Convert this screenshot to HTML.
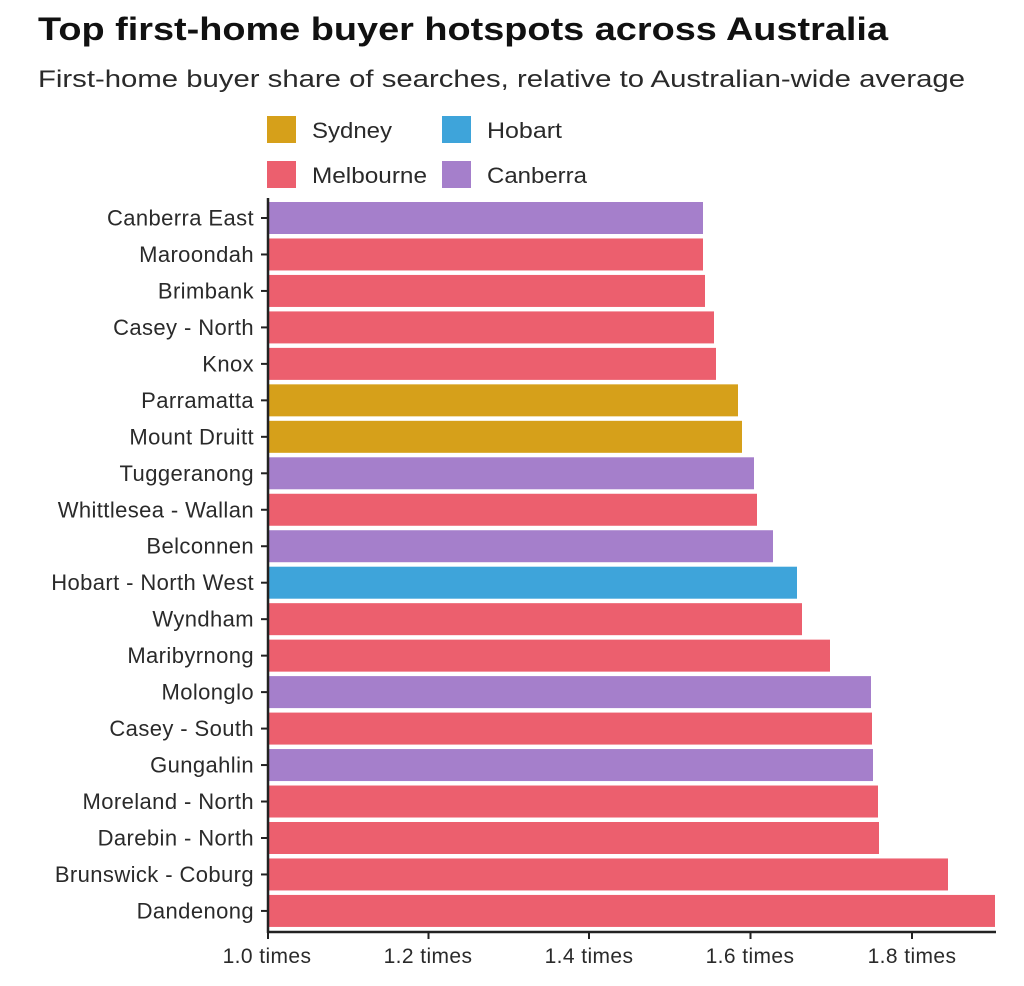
<!DOCTYPE html>
<html><head><meta charset="utf-8"><style>
html,body{margin:0;padding:0;background:#fff;}
svg text{font-family:"Liberation Sans",sans-serif;fill:#2a2a2a;}
</style></head><body>
<svg width="1024" height="981" viewBox="0 0 1024 981" xmlns="http://www.w3.org/2000/svg">
<text x="38" y="40" font-size="32" font-weight="bold" style="fill:#111" textLength="850" lengthAdjust="spacingAndGlyphs">Top first-home buyer hotspots across Australia</text>
<text x="38" y="87" font-size="24" textLength="927" lengthAdjust="spacingAndGlyphs">First-home buyer share of searches, relative to Australian-wide average</text>
<rect x="267" y="116" width="29" height="27" fill="#d6a01a"/><text x="312" y="138" font-size="22" textLength="80" lengthAdjust="spacingAndGlyphs">Sydney</text>
<rect x="442" y="116" width="29" height="27" fill="#3ea4da"/><text x="487" y="138" font-size="22" textLength="75" lengthAdjust="spacingAndGlyphs">Hobart</text>
<rect x="267" y="161" width="29" height="27" fill="#ec5f6e"/><text x="312" y="183" font-size="22" textLength="115" lengthAdjust="spacingAndGlyphs">Melbourne</text>
<rect x="442" y="161" width="29" height="27" fill="#a57fcb"/><text x="487" y="183" font-size="22" textLength="100" lengthAdjust="spacingAndGlyphs">Canberra</text>
<g>
<rect x="269" y="202" width="434" height="32" fill="#a57fcb"/>
<rect x="269" y="238.47" width="434" height="32" fill="#ec5f6e"/>
<rect x="269" y="274.94" width="436" height="32" fill="#ec5f6e"/>
<rect x="269" y="311.41" width="445" height="32" fill="#ec5f6e"/>
<rect x="269" y="347.88" width="447" height="32" fill="#ec5f6e"/>
<rect x="269" y="384.35" width="469" height="32" fill="#d6a01a"/>
<rect x="269" y="420.82" width="473" height="32" fill="#d6a01a"/>
<rect x="269" y="457.29" width="485" height="32" fill="#a57fcb"/>
<rect x="269" y="493.76" width="488" height="32" fill="#ec5f6e"/>
<rect x="269" y="530.23" width="504" height="32" fill="#a57fcb"/>
<rect x="269" y="566.7" width="528" height="32" fill="#3ea4da"/>
<rect x="269" y="603.17" width="533" height="32" fill="#ec5f6e"/>
<rect x="269" y="639.64" width="561" height="32" fill="#ec5f6e"/>
<rect x="269" y="676.11" width="602" height="32" fill="#a57fcb"/>
<rect x="269" y="712.58" width="603" height="32" fill="#ec5f6e"/>
<rect x="269" y="749.05" width="604" height="32" fill="#a57fcb"/>
<rect x="269" y="785.52" width="609" height="32" fill="#ec5f6e"/>
<rect x="269" y="821.99" width="610" height="32" fill="#ec5f6e"/>
<rect x="269" y="858.46" width="679" height="32" fill="#ec5f6e"/>
<rect x="269" y="894.93" width="726" height="32" fill="#ec5f6e"/>
</g>
<g stroke="#222" stroke-width="2">
<line x1="261" y1="218" x2="268" y2="218"/><line x1="261" y1="254.47" x2="268" y2="254.47"/>
<line x1="261" y1="290.94" x2="268" y2="290.94"/><line x1="261" y1="327.41" x2="268" y2="327.41"/>
<line x1="261" y1="363.88" x2="268" y2="363.88"/><line x1="261" y1="400.35" x2="268" y2="400.35"/>
<line x1="261" y1="436.82" x2="268" y2="436.82"/><line x1="261" y1="473.29" x2="268" y2="473.29"/>
<line x1="261" y1="509.76" x2="268" y2="509.76"/><line x1="261" y1="546.23" x2="268" y2="546.23"/>
<line x1="261" y1="582.7" x2="268" y2="582.7"/><line x1="261" y1="619.17" x2="268" y2="619.17"/>
<line x1="261" y1="655.64" x2="268" y2="655.64"/><line x1="261" y1="692.11" x2="268" y2="692.11"/>
<line x1="261" y1="728.58" x2="268" y2="728.58"/><line x1="261" y1="765.05" x2="268" y2="765.05"/>
<line x1="261" y1="801.52" x2="268" y2="801.52"/><line x1="261" y1="837.99" x2="268" y2="837.99"/>
<line x1="261" y1="874.46" x2="268" y2="874.46"/><line x1="261" y1="910.93" x2="268" y2="910.93"/>
</g>
<g font-size="22" text-anchor="end" letter-spacing="0.4">
<text x="254" y="225.5">Canberra East</text>
<text x="254" y="261.97">Maroondah</text>
<text x="254" y="298.44">Brimbank</text>
<text x="254" y="334.91">Casey - North</text>
<text x="254" y="371.38">Knox</text>
<text x="254" y="407.85">Parramatta</text>
<text x="254" y="444.32">Mount Druitt</text>
<text x="254" y="480.79">Tuggeranong</text>
<text x="254" y="517.26">Whittlesea - Wallan</text>
<text x="254" y="553.73">Belconnen</text>
<text x="254" y="590.2">Hobart - North West</text>
<text x="254" y="626.67">Wyndham</text>
<text x="254" y="663.14">Maribyrnong</text>
<text x="254" y="699.61">Molonglo</text>
<text x="254" y="736.08">Casey - South</text>
<text x="254" y="772.55">Gungahlin</text>
<text x="254" y="809.02">Moreland - North</text>
<text x="254" y="845.49">Darebin - North</text>
<text x="254" y="881.96">Brunswick - Coburg</text>
<text x="254" y="918.43">Dandenong</text>
</g>
<line x1="268" y1="198" x2="268" y2="933" stroke="#222" stroke-width="2.5"/>
<line x1="267" y1="932" x2="996" y2="932" stroke="#222" stroke-width="2.5"/>
<g stroke="#222" stroke-width="2">
<line x1="268" y1="932" x2="268" y2="939"/>
<line x1="428.5" y1="932" x2="428.5" y2="939"/>
<line x1="589" y1="932" x2="589" y2="939"/>
<line x1="750.5" y1="932" x2="750.5" y2="939"/>
<line x1="912" y1="932" x2="912" y2="939"/>
</g>
<g font-size="21" text-anchor="middle" letter-spacing="0.4">
<text x="267" y="963">1.0 times</text>
<text x="428" y="963">1.2 times</text>
<text x="589" y="963">1.4 times</text>
<text x="750" y="963">1.6 times</text>
<text x="912" y="963">1.8 times</text>
</g>
</svg>
</body></html>
